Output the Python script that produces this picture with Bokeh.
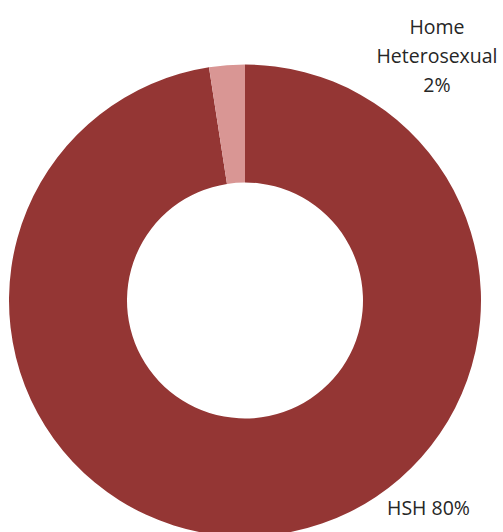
import math
from bokeh.plotting import figure
from bokeh.models import ColumnDataSource, Range1d
from bokeh.core.properties import value
from bokeh.embed import file_html
from bokeh.resources import INLINE

# Data
categories = ["HSH", "Home Heterosexual"]
percents = [80, 2]
colors = ["#943634", "#D99694"]

W, H = 503, 532
total = sum(percents)
starts, ends = [], []
acc = 0.0
for v in percents:
    s = math.pi / 2 - 2 * math.pi * acc / total
    acc += v
    e = math.pi / 2 - 2 * math.pi * acc / total
    starts.append(s)
    ends.append(e)

src = ColumnDataSource(dict(cat=categories, val=percents, start=starts, end=ends, color=colors))

p = figure(width=W, height=H, output_backend="svg", toolbar_location=None,
           x_range=Range1d(0, W), y_range=Range1d(0, H), min_border=0,
           outline_line_color=None, background_fill_color="white")
p.axis.visible = False
p.grid.visible = False

cx, cy = 244.5, H - 300
p.annular_wedge(x=cx, y=cy, inner_radius=118, outer_radius=236,
                start_angle="start", end_angle="end", direction="clock",
                fill_color="color", line_color=None, source=src)

font = value("Open Sans")
lbl_hh = ["Home", "Heterosexual", f"{percents[1]}%"]
ys = [H - 26, H - 55, H - 84]
p.text(x=[436.5] * 3, y=ys, text=lbl_hh, text_font=font, text_font_size="19.5px",
       text_color="#262626", text_align="center", text_baseline="alphabetic")
p.text(x=[428], y=[H - 507], text=[f"{categories[0]} {percents[0]}%"], text_font=font,
       text_font_size="19.5px", text_color="#262626", text_align="center",
       text_baseline="alphabetic")

open("out.html", "w").write(file_html(p, INLINE))
